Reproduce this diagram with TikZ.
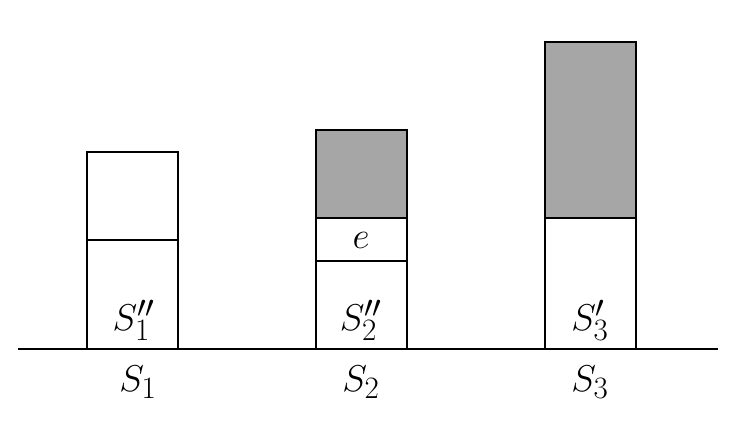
\documentclass[tikz,border=0pt]{standalone}
\begin{document}
\begin{tikzpicture}[x=1pt,y=-1pt,
  box/.style={draw=black,line width=2pt},
  shade/.style={box,fill=gray!70},
  lbl/.style={font=\Huge,scale=1.5,inner sep=0pt}]
\useasboundingbox (0,0) rectangle (743,425);
% bar 1
\draw[box] (87,152) rectangle (178,349);
\draw[box] (87,240) -- (178,240);
% bar 2
\draw[shade] (316,130) rectangle (407,218);
\draw[box] (316,218) rectangle (407,349);
\draw[box] (316,261) -- (407,261);
% bar 3
\draw[shade] (545,42) rectangle (636,218);
\draw[box] (545,218) rectangle (636,349);
% baseline
\coordinate (bl) at (18,349);
\coordinate (br) at (718,349);
\draw[line width=2pt] (bl) -- (br);
% labels
\node[lbl] (s1pp) at (134,320) {$S_1''$};
\node[lbl] (e) at (361,240) {$e$};
\node[lbl] (s2pp) at (361,320) {$S_2''$};
\node[lbl] (s3p) at (590,320) {$S_3'$};
\node[lbl] (s1) at (138,382) {$S_1$};
\node[lbl] (s2) at (361,382) {$S_2$};
\node[lbl] (s3) at (590,382) {$S_3$};
\end{tikzpicture}
\end{document}
